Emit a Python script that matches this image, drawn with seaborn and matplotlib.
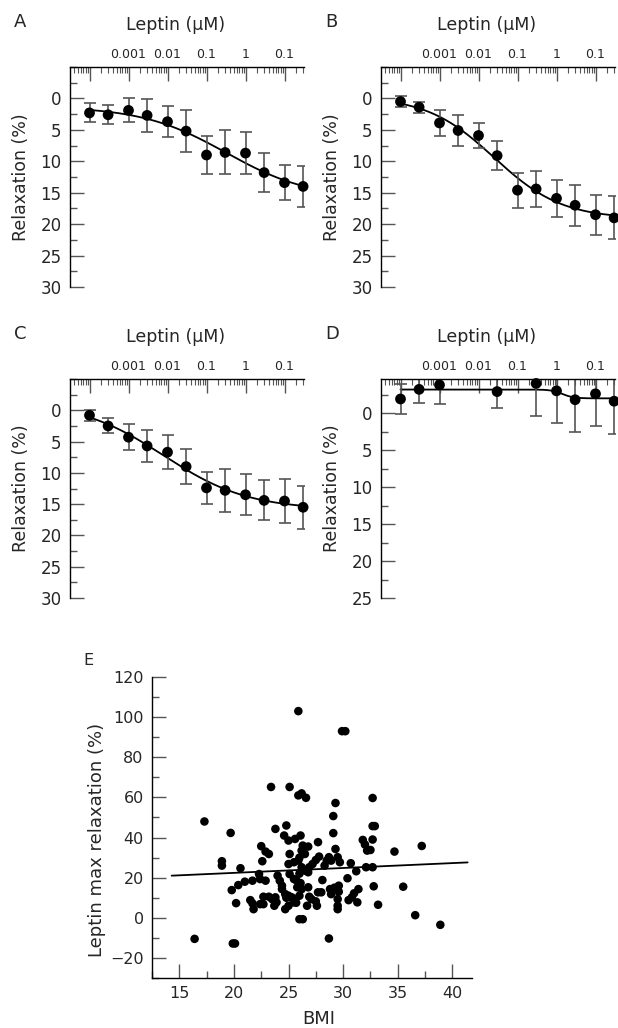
import numpy as np
import pandas as pd
import matplotlib
matplotlib.use("Agg")
import matplotlib.pyplot as plt
import matplotlib.ticker as mticker
import seaborn as sns

# Leptin concentrations (uM), half-log steps
conc = [1e-4, 3e-4, 1e-3, 3e-3, 1e-2, 3e-2, 0.1, 0.3, 1, 3, 10, 30]
conc_d = [1e-4, 3e-4, 1e-3, 3e-2, 0.3, 1, 3, 10, 30]

# relaxation (%) and error bars
relax_a = [2.3, 2.6, 1.9, 2.7, 3.7, 5.2, 9.0, 8.6, 8.7, 11.8, 13.4, 14.0]
err_a = [1.5, 1.5, 1.9, 2.6, 2.5, 3.3, 3.1, 3.5, 3.4, 3.1, 2.8, 3.3]
relax_b = [0.5, 1.4, 3.9, 5.1, 5.9, 9.1, 14.6, 14.4, 15.9, 17.0, 18.5, 19.0]
err_b = [0.9, 0.9, 2.1, 2.4, 2.0, 2.3, 2.8, 2.8, 2.9, 3.3, 3.2, 3.4]
relax_c = [0.8, 2.5, 4.3, 5.7, 6.7, 9.0, 12.4, 12.8, 13.5, 14.4, 14.5, 15.5]
err_c = [0.9, 1.2, 2.1, 2.6, 2.7, 2.8, 2.6, 3.4, 3.3, 3.2, 3.5, 3.4]
relax_d = [-1.9, -3.2, -3.8, -2.9, -4.0, -3.0, -1.8, -2.6, -1.6]
err_d = [2.0, 1.8, 2.6, 2.2, 4.4, 4.4, 4.3, 4.4, 4.5]

dose_ticks = [1e-4, 1e-3, 1e-2, 1e-1, 1, 10]
dose_labels = ["", "0.001", "0.01", "0.1", "1", "0.1"]

# BMI vs leptin max relaxation (%)
bmi = [16.4, 17.3, 19.7, 18.9, 18.9, 19.9, 20.1, 19.8, 20.2, 20.4,
       20.6, 21.0, 21.5, 21.7, 21.7, 21.8, 22.3, 22.4, 22.4, 22.7,
       22.5, 22.9, 23.2, 22.6, 22.9, 22.7, 23.2, 23.5, 23.8, 23.9,
       23.7, 23.4, 23.8, 24.0, 24.2, 24.4, 24.4, 24.6, 24.7, 24.7,
       24.8, 25.0, 25.0, 25.0, 25.3, 25.5, 25.1, 25.1, 25.0, 25.5,
       25.9, 25.1, 25.5, 25.8, 25.6, 26.1, 25.9, 25.9, 26.2, 26.6,
       26.0, 26.3, 26.2, 26.0, 25.7, 26.2, 26.5, 26.8, 26.9, 27.2,
       27.5, 27.8, 26.3, 26.8, 26.2, 26.5, 26.0, 26.8, 26.9, 27.1,
       27.5, 27.6, 26.7, 27.7, 28.0, 27.7, 28.1, 28.7, 28.5, 28.3,
       28.9, 29.5, 29.7, 29.3, 28.8, 28.9, 29.2, 29.6, 29.6, 29.5,
       29.5, 29.5, 28.7, 29.3, 29.1, 29.1, 29.9, 30.2, 30.4, 30.7,
       30.5, 30.8, 31.0, 31.4, 31.2, 31.3, 31.8, 32.0, 32.2, 32.5,
       32.1, 32.7, 32.7, 32.7, 32.9, 32.7, 32.8, 33.2, 34.7, 35.5,
       36.6, 37.2, 38.9, 24.8, 25.4, 25.7, 26.0, 26.1]
max_relax = [-10.5, 48.0, 42.3, 28.2, 26.0, -12.8, -12.8, 13.8, 7.3, 16.3,
             24.7, 18.0, 8.8, 18.5, 7.2, 4.3, 21.8, 19.3, 6.8, 6.8,
             35.7, 33.0, 31.8, 28.2, 18.5, 10.5, 10.5, 9.3, 10.2, 7.7,
             6.0, 65.2, 44.3, 21.0, 18.5, 16.0, 14.3, 41.0, 11.8, 4.3,
             46.0, 38.5, 11.0, 6.0, 10.2, 7.7, 65.2, 31.8, 26.8, 27.7,
             28.5, 21.8, 19.3, 15.2, 39.3, 41.0, 103.0, 61.0, 62.0, 59.8,
             -0.7, -0.7, 14.3, 11.0, 18.8, 25.2, 23.5, 22.7, 25.2, 26.8,
             28.8, 30.5, 36.0, 35.5, 33.5, 31.8, 30.0, 15.2, 10.5, 9.3,
             8.2, 6.0, 6.0, 12.7, 12.7, 37.7, 18.8, 30.2, 28.5, 26.0,
             28.5, 30.2, 27.7, 34.3, 14.3, 11.8, 15.0, 16.0, 13.0, 9.3,
             6.0, 4.3, -10.3, 57.2, 50.7, 42.2, 93.0, 93.0, 19.7, 27.2,
             8.8, 10.2, 12.2, 14.3, 23.2, 7.7, 38.8, 36.5, 33.5, 33.8,
             25.2, 25.2, 39.0, 45.7, 45.7, 59.7, 15.7, 6.5, 33.0, 15.5,
             1.3, 35.8, -3.5, 10.0, 9.5, 7.5, 22.0, 17.3]

# regression line of panel E, end points
fit_bmi = [14.3, 41.4]
fit_relax = [21.0, 27.6]

sns.set_theme(style="ticks")
plt.rcParams["font.family"] = ["DejaVu Sans"]
GREY = "#555555"


def hill_fit(x, y):
    # simple grid-search 4-parameter logistic fit in log10 concentration
    lx = np.log10(x)
    y = np.asarray(y, dtype=float)
    best = None
    for c in np.linspace(-4.5, 2.5, 141):
        for h in np.linspace(0.3, 3.0, 55):
            s = 1 / (1 + 10 ** ((c - lx) * h))
            A = np.column_stack([np.ones_like(s), s])
            coef = np.linalg.lstsq(A, y, rcond=None)[0]
            r = np.sum((A @ coef - y) ** 2)
            if best is None or r < best[0]:
                best = (r, c, h, coef)
    _, c, h, coef = best
    xs = np.logspace(lx.min(), lx.max(), 200)
    ys = coef[0] + coef[1] / (1 + 10 ** ((c - np.log10(xs)) * h))
    return xs, ys


def dose_panel(ax, x, y, err, ylim, letter):
    xs, ys = hill_fit(x, y)
    sns.lineplot(x=xs, y=ys, ax=ax, color="black", lw=1.3)
    eb = ax.errorbar(x, y, yerr=err, fmt="none", ecolor=GREY, elinewidth=1.2,
                     capsize=4.5, capthick=1.2)
    for cap in eb[1]:
        cap.set_color("#222222")
    sns.scatterplot(x=x, y=y, ax=ax, color="black", s=60, edgecolor="none",
                    zorder=4, clip_on=False)
    ax.set_xscale("log")
    ax.set_xlim(10 ** -4.5, 10 ** 1.5)
    ax.set_ylim(*ylim)
    ax.xaxis.tick_top()
    ax.xaxis.set_label_position("top")
    ax.xaxis.set_major_locator(mticker.FixedLocator(dose_ticks))
    ax.xaxis.set_major_formatter(mticker.FixedFormatter(dose_labels))
    ax.xaxis.set_minor_locator(mticker.LogLocator(base=10, subs=np.arange(2, 10), numticks=30))
    ax.xaxis.set_minor_formatter(mticker.NullFormatter())
    ax.yaxis.set_major_locator(mticker.FixedLocator(np.arange(0, ylim[0] + 1, 5)))
    ax.yaxis.set_minor_locator(mticker.MultipleLocator(2.5))
    for side in ["right", "bottom"]:
        ax.spines[side].set_visible(False)
    for side in ["top", "left"]:
        ax.spines[side].set_linewidth(1.0)
        ax.spines[side].set_color("black")
    ax.tick_params(axis="x", which="major", direction="in", length=10, width=1,
                   color=GREY, labelsize=9, pad=4, top=True, bottom=False)
    ax.tick_params(axis="x", which="minor", direction="in", length=4.5, width=0.8,
                   color=GREY, top=True, bottom=False)
    ax.tick_params(axis="y", which="major", direction="in", length=10, width=1,
                   color=GREY, labelsize=12, pad=6)
    ax.tick_params(axis="y", which="minor", direction="in", length=5, width=1, color=GREY)
    ax.set_xlabel("Leptin (\u03bcM)", fontsize=12.5)
    ax.set_ylabel("Relaxation (%)", fontsize=12.5)
    ax.xaxis.set_label_coords(0.45, 1.17)
    ax.yaxis.set_label_coords(-0.17, 0.5)
    ax.text(-0.24, 1.245, letter, transform=ax.transAxes, fontsize=13,
            ha="left", va="top")


fig = plt.figure(figsize=(6.18, 10.28), dpi=100)
W, H = 618.0, 1028.0


def px_axes(left, top, right, bottom):
    return fig.add_axes([left / W, 1 - bottom / H, (right - left) / W, (bottom - top) / H])


ax_a = px_axes(70, 67, 304, 287)
ax_b = px_axes(381, 67, 615, 287)
ax_c = px_axes(70, 379, 304, 598)
ax_d = px_axes(381, 379, 615, 598)
ax_e = px_axes(152, 677, 472, 978)

dose_panel(ax_a, conc, relax_a, err_a, (30, -5), "A")
dose_panel(ax_b, conc, relax_b, err_b, (30, -5), "B")
dose_panel(ax_c, conc, relax_c, err_c, (30, -5), "C")
dose_panel(ax_d, conc_d, relax_d, err_d, (25, -4.6), "D")

# panel E: BMI scatter with regression line
df = pd.DataFrame({"BMI": bmi, "relax": max_relax})
sns.scatterplot(data=df, x="BMI", y="relax", ax=ax_e, color="black", s=38,
                edgecolor="none", zorder=3)
sns.lineplot(x=fit_bmi, y=fit_relax, ax=ax_e, color="black", lw=1.3)
ax_e.set_xlim(12.5, 41.8)
ax_e.set_ylim(-30, 120)
ax_e.xaxis.set_major_locator(mticker.MultipleLocator(5))
ax_e.xaxis.set_minor_locator(mticker.MultipleLocator(2.5))
ax_e.yaxis.set_major_locator(mticker.MultipleLocator(20))
ax_e.yaxis.set_minor_locator(mticker.MultipleLocator(10))
for side in ["right", "top"]:
    ax_e.spines[side].set_visible(False)
for side in ["bottom", "left"]:
    ax_e.spines[side].set_linewidth(1.0)
    ax_e.spines[side].set_color("black")
ax_e.tick_params(which="major", direction="in", length=10, width=1, color=GREY,
                 labelsize=11.5, pad=6)
ax_e.tick_params(which="minor", direction="in", length=5, width=1, color=GREY)
ax_e.set_xlabel("BMI", fontsize=13)
ax_e.set_ylabel("Leptin max relaxation (%)", fontsize=13)
ax_e.xaxis.set_label_coords(0.52, -0.105)
ax_e.yaxis.set_label_coords(-0.145, 0.46)
ax_e.text(-0.215, 1.08, "E", transform=ax_e.transAxes, fontsize=11.5,
          ha="left", va="top")

fig.savefig("out.png", dpi=100)
